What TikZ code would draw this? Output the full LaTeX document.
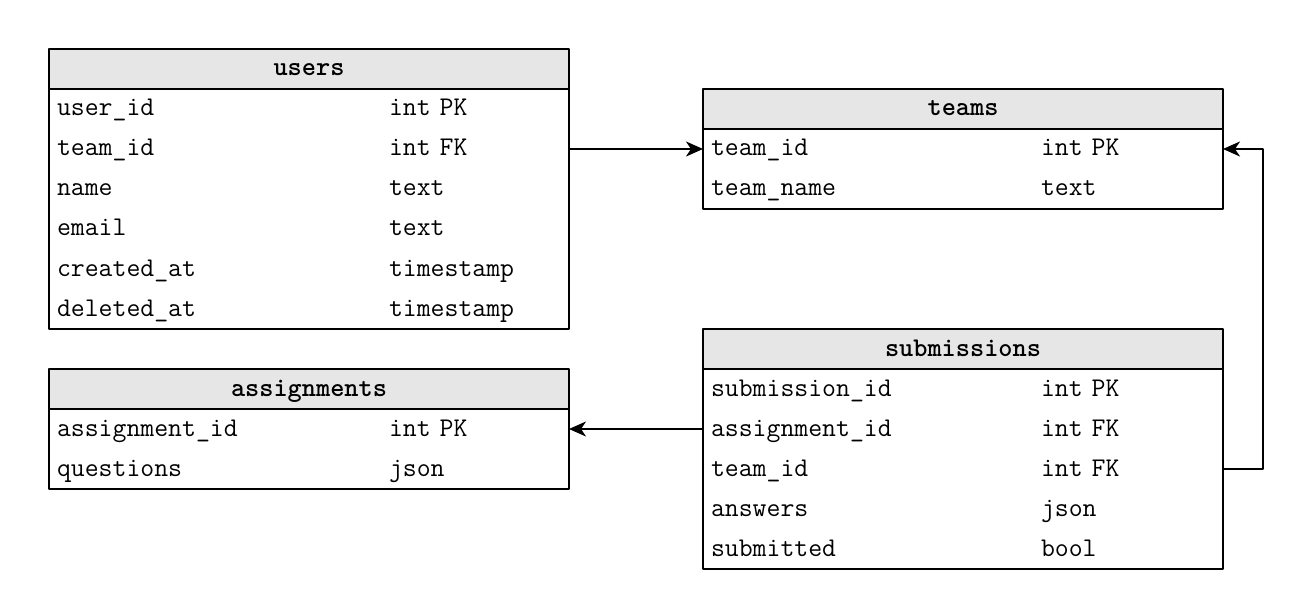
\documentclass[tikz,border=0pt]{standalone}
\usepackage{tikz}
\usetikzlibrary{arrows.meta}

\definecolor{headgray}{HTML}{E6E6E6}

\tikzset{
  tblhead/.style={draw,line width=2pt,fill=headgray,minimum width=520pt,minimum height=40pt,
    anchor=north west,inner sep=0pt,outer sep=0pt,text height=18pt,text depth=4pt,
    font=\fontsize{27}{30}\ttfamily\bfseries},
  tblrow/.style={minimum width=520pt,minimum height=40pt,anchor=north west,inner xsep=8pt,
    inner ysep=0pt,outer sep=0pt,text width=504pt,text height=18pt,text depth=4pt,
    align=left,font=\fontsize{27}{30}\ttfamily},
  fkline/.style={line width=2pt,-{Stealth[length=17pt,width=15pt,inset=5pt]}}
}

\begin{document}
\begin{tikzpicture}[line cap=round,line join=round,x=1pt,y=-1pt]
      \useasboundingbox (0,0) rectangle (1314,604);

      % users
      \node[tblhead] (users) at (49,49) {users};
      \foreach \name/\type [count=\i] in {user\_id/int PK,team\_id/int FK,name/text,
        email/text,created\_at/timestamp,deleted\_at/timestamp}{
        \node[tblrow] (users-\i) at (49,49+40*\i) {\makebox[332pt][l]{\name}\type};
      }
      \draw[line width=2pt] (users.south west) rectangle (users-6.south east);

      % teams
      \node[tblhead] (teams) at (703,89) {teams};
      \foreach \name/\type [count=\i] in {team\_id/int PK,team\_name/text}{
        \node[tblrow] (teams-\i) at (703,89+40*\i) {\makebox[330pt][l]{\name}\type};
      }
      \draw[line width=2pt] (teams.south west) rectangle (teams-2.south east);

      % assignments
      \node[tblhead] (assignments) at (49,369) {assignments};
      \foreach \name/\type [count=\i] in {assignment\_id/int PK,questions/json}{
        \node[tblrow] (assignments-\i) at (49,369+40*\i) {\makebox[332pt][l]{\name}\type};
      }
      \draw[line width=2pt] (assignments.south west) rectangle (assignments-2.south east);

      % submissions
      \node[tblhead] (submissions) at (703,329) {submissions};
      \foreach \name/\type [count=\i] in {submission\_id/int PK,assignment\_id/int FK,
        team\_id/int FK,answers/json,submitted/bool}{
        \node[tblrow] (submissions-\i) at (703,329+40*\i) {\makebox[330pt][l]{\name}\type};
      }
      \draw[line width=2pt] (submissions.south west) rectangle (submissions-5.south east);

      % foreign keys
      \coordinate (bend) at (1263,0);
      \draw[fkline] (users-2.east) -- (teams-1.west);
      \draw[fkline] (submissions-2.west) -- (assignments-1.east);
      \draw[fkline,line cap=butt] (submissions-3.east) -- (submissions-3.east -| bend)
        -- (teams-1.east -| bend) -- (teams-1.east);
    \end{tikzpicture}
\end{document}
